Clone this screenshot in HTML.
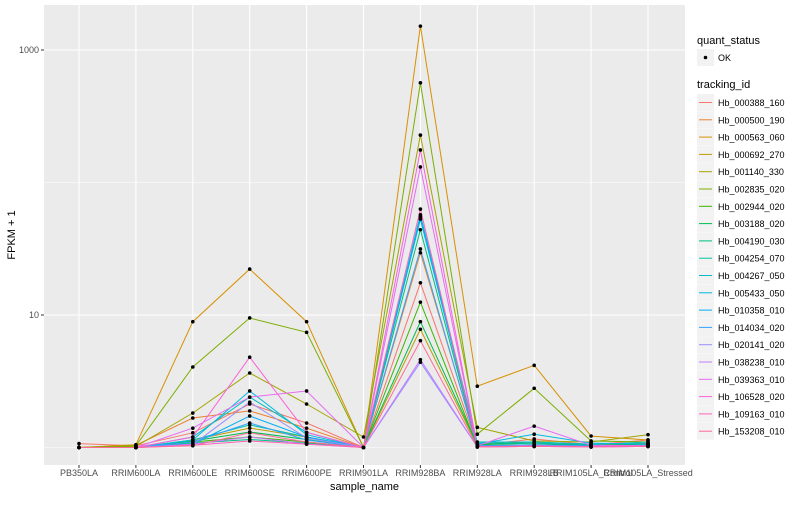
<!DOCTYPE html>
<html><head><meta charset="utf-8"><style>
body{margin:0;background:#fff;font-family:"Liberation Sans",sans-serif}
svg text{font-family:"Liberation Sans",sans-serif}
</style></head><body>
<svg id="chart" width="800" height="500"></svg>
<script>
const categories=["PB350LA","RRIM600LA","RRIM600LE","RRIM600SE","RRIM600PE","RRIM901LA","RRIM928BA","RRIM928LA","RRIM928LB","RRIM105LA_Control","RRIM105LA_Stressed"];
const seriesNames=["Hb_000388_160","Hb_000500_190","Hb_000563_060","Hb_000692_270","Hb_001140_330","Hb_002835_020","Hb_002944_020","Hb_003188_020","Hb_004190_030","Hb_004254_070","Hb_004267_050","Hb_005433_050","Hb_010358_010","Hb_014034_020","Hb_020141_020","Hb_038238_010","Hb_039363_010","Hb_106528_020","Hb_109163_010","Hb_153208_010"];
const seriesColors=["#F8766D","#EA8331","#D89000","#C09B00","#A3A500","#7CAE00","#39B600","#00BB4E","#00BF7D","#00C1A3","#00BFC4","#00BAE0","#00B0F6","#35A2FF","#9590FF","#C77CFF","#E76BF3","#FA62DB","#FF62BC","#FF6A98"];
const s01=[1.07,1.03,1.29,2.13,1.53,1,17.5,1.04,1.16,1.05,1.14];
const s02=[1,1.04,1.67,1.89,1.4,1,29.5,1.05,1.1,1.05,1.08];
const s03=[1,1.05,8.9,22.2,8.9,1,1514,2.9,4.17,1.22,1.14];
const s04=[1,1,1.14,1.4,1.2,1,7.8,1.03,1.05,1.05,1.04];
const s05=[1,1.02,1.82,3.65,2.13,1.2,228,1.42,1.12,1.1,1.25];
const s06=[1,1.03,4.05,9.5,7.4,1,565,1.26,2.8,1.12,1.1];
const s07=[1,1,1.1,1.2,1.1,1,12.5,1.02,1.03,1.02,1.02];
const s08=[1,1,1.12,1.31,1.15,1,8.9,1.05,1.08,1.03,1.06];
const s09=[1,1,1.08,1.15,1.08,1,44,1.02,1.03,1.02,1.03];
const s10=[1,1,1.14,1.48,1.2,1,53,1.08,1.08,1.05,1.1];
const s11=[1,1,1.2,2.4,1.3,1,55,1.1,1.1,1.06,1.07];
const s12=[1,1,1.14,2.67,1.25,1,57,1.06,1.26,1.08,1.06];
const s13=[1,1,1.06,1.73,1.2,1,53,1.03,1.05,1.03,1.04];
const s14=[1,1,1.1,1.53,1.14,1,31.5,1.02,1.04,1.02,1.03];
const s15=[1,1,1.05,2.2,1.18,1,4.4,1.01,1.02,1.01,1.02];
const s16=[1,1,1.06,1.2,1.06,1,4.6,1.01,1.02,1.01,1.02];
const s17=[1,1,1.4,2.4,2.67,1,131,1.03,1.45,1.04,1.03];
const s18=[1,1,1.2,4.8,1.3,1,176,1.02,1.03,1.02,1.03];
const s19=[1,1,1.04,1.12,1.06,1,63,1.01,1.02,1.01,1.02];
const s20=[1,1,1.03,1.29,1.1,1,6.4,1.01,1.02,1.01,1.02];
const seriesValues=[s01,s02,s03,s04,s05,s06,s07,s08,s09,s10,s11,s12,s13,s14,s15,s16,s17,s18,s19,s20];
const yTickValues=[10,1000];
const yTickLabels=["10","1000"];
const yMinorValues=[1,100];

const NS="http://www.w3.org/2000/svg";
const svg=document.getElementById("chart");
const P={l:44,r:685,t:5,b:465};
function xPos(i){return 79+i*(648-79)/(categories.length-1);}
function yPos(v){return 447.5-132.5*Math.log10(v);}
function mk(tag,attrs,parent){const e=document.createElementNS(NS,tag);for(const k in attrs)e.setAttribute(k,attrs[k]);(parent||svg).appendChild(e);return e;}

const panel=mk("rect",{x:P.l,y:P.t,width:P.r-P.l,height:P.b-P.t,fill:"#EBEBEB"});


yMinorValues.forEach(v=>{const l=mk("line",{x1:P.l,x2:P.r,y1:yPos(v),y2:yPos(v),stroke:"#fff","stroke-width":0.6});

});
yTickValues.forEach((v,i)=>{const l=mk("line",{x1:P.l,x2:P.r,y1:yPos(v),y2:yPos(v),stroke:"#fff","stroke-width":1.1});


mk("line",{x1:P.l-3,x2:P.l,y1:yPos(v),y2:yPos(v),stroke:"#333","stroke-width":1});
const t=mk("text",{x:P.l-5,y:yPos(v)+3,"text-anchor":"end","font-size":"9",fill:"#4D4D4D"});t.textContent=yTickLabels[i];

});
categories.forEach((c,i)=>{const l=mk("line",{x1:xPos(i),x2:xPos(i),y1:P.t,y2:P.b,stroke:"#fff","stroke-width":1.1});


mk("line",{x1:xPos(i),x2:xPos(i),y1:P.b,y2:P.b+3,stroke:"#333","stroke-width":1});
const t=mk("text",{x:xPos(i),y:P.b+11,"text-anchor":"middle","font-size":"9",fill:"#4D4D4D"});t.textContent=c;

});
seriesValues.forEach((vals,si)=>{const pts=vals.map((v,i)=>xPos(i).toFixed(1)+","+yPos(v).toFixed(1)).join(" ");
const pl=mk("polyline",{points:pts,fill:"none",stroke:seriesColors[si],"stroke-width":1});

});
seriesValues.forEach((vals,si)=>{vals.forEach((v,i)=>{const c=mk("circle",{cx:xPos(i),cy:yPos(v),r:1.8,fill:"#000"});

});});

const xt=mk("text",{x:(P.l+P.r)/2,y:490,"text-anchor":"middle","font-size":"11",fill:"#000"});xt.textContent="sample_name";


const yt=mk("text",{x:15,y:(P.t+P.b)/2,"text-anchor":"middle","font-size":"11",fill:"#000",transform:"rotate(-90 15 "+(P.t+P.b)/2+")"});yt.textContent="FPKM + 1";



const lg=mk("g",{});


const q=mk("text",{x:697,y:44,"font-size":"11",fill:"#000"},lg);q.textContent="quant_status";


mk("rect",{x:697,y:49,width:17,height:17,fill:"#F2F2F2"},lg);
mk("circle",{cx:705.5,cy:57.5,r:1.8,fill:"#000"},lg);
const ok=mk("text",{x:718,y:61,"font-size":"9",fill:"#000"},lg);ok.textContent="OK";


const tr=mk("text",{x:697,y:88,"font-size":"11",fill:"#000"},lg);tr.textContent="tracking_id";


seriesNames.forEach((n,i)=>{const y=94+i*17.3;
mk("rect",{x:697,y:y,width:17,height:17,fill:"#F2F2F2"},lg);
mk("line",{x1:699,x2:712,y1:y+8.5,y2:y+8.5,stroke:seriesColors[i],"stroke-width":1},lg);
const t=mk("text",{x:718,y:y+12,"font-size":"9",fill:"#000"},lg);t.textContent=n;

});
</script>
</body></html>
